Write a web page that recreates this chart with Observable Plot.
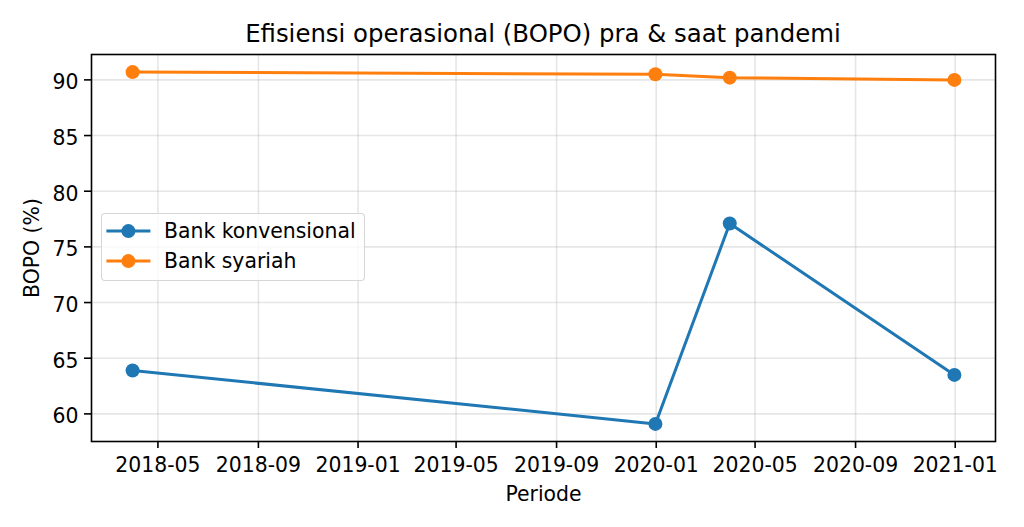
<!DOCTYPE html>
<html>
<head>
<meta charset="utf-8">
<script src="https://cdn.jsdelivr.net/npm/d3@7"></script>
<script src="https://cdn.jsdelivr.net/npm/@observablehq/plot@0.6"></script>
<style>
  html, body { margin: 0; padding: 0; background: white; }
  #wrap { position: relative; width: 1024px; height: 527px; overflow: hidden; font-family: "DejaVu Sans", sans-serif; }
  #title { height: 46px; box-sizing: border-box; padding-top: 22px; margin-left: 91px; width: 904px; text-align: center; font-size: 24.4px; line-height: 24px; color: black; white-space: nowrap; }
  #legend { position: absolute; left: 101px; top: 213px; width: 264px; height: 68px; box-sizing: border-box; border: 1.6px solid rgba(204,204,204,0.8); border-radius: 4px; background: rgba(255,255,255,0.8); }
  #legend svg { position: absolute; left: 0; top: 0; overflow: visible; }
</style>
</head>
<body>
<div id="wrap">
  <div id="title"></div>
  <div id="chart"></div>
  <div id="legend"></div>
</div>
<script>
const titleText = "Efisiensi operasional (BOPO) pra & saat pandemi";
const xLabel = "Periode";
const yLabel = "BOPO (%)";
const seriesNames = ["Bank konvensional", "Bank syariah"];
const seriesColors = ["#1f77b4", "#ff7f0e"];
const dates = ["2018-03-31", "2019-12-31", "2020-03-31", "2020-12-31"];
const konvensional = [63.9, 59.1, 77.1, 63.5];
const syariah = [90.7, 90.5, 90.2, 90.0];
const xTickLabels = ["2018-05", "2018-09", "2019-01", "2019-05", "2019-09", "2020-01", "2020-05", "2020-09", "2021-01"];
const yTicks = [60, 65, 70, 75, 80, 85, 90];

document.getElementById("title").textContent = titleText;

const parseDate = d3.utcParse("%Y-%m-%d");
const parseMonth = d3.utcParse("%Y-%m");
const xTicks = xTickLabels.map(parseMonth);

const data = [];
dates.forEach((d, i) => {
  data.push({date: parseDate(d), value: konvensional[i], series: seriesNames[0]});
  data.push({date: parseDate(d), value: syariah[i], series: seriesNames[1]});
});

// matplotlib-like 5% margins
const [x0, x1] = d3.extent(data, d => +d.date);
const xPad = (x1 - x0) * 0.05;
const [y0, y1] = d3.extent(data, d => d.value);
const yPad = (y1 - y0) * 0.05;

const gridStyle = {stroke: "#b0b0b0", strokeOpacity: 0.32, strokeWidth: 1.6};
const FS = 20.4;

const chart = Plot.plot({
  width: 1024,
  height: 481,
  marginTop: 8,
  marginBottom: 86,
  marginLeft: 91,
  marginRight: 29,
  style: {fontFamily: "DejaVu Sans, sans-serif", fontSize: FS + "px", background: "white", color: "black", overflow: "visible"},
  x: {type: "utc", domain: [new Date(x0 - xPad), new Date(x1 + xPad)]},
  y: {domain: [y0 - yPad, y1 + yPad]},
  color: {domain: seriesNames, range: seriesColors},
  marks: [
    Plot.gridX(xTicks, gridStyle),
    Plot.gridY(yTicks, gridStyle),
    Plot.line(data, {x: "date", y: "value", stroke: "series", z: "series", strokeWidth: 3}),
    Plot.dot(data, {x: "date", y: "value", fill: "series", r: 7}),
    Plot.frame({stroke: "black", strokeWidth: 1.6}),
    Plot.axisX(xTicks, {tickSize: 7, tickPadding: 9, tickFormat: d3.utcFormat("%Y-%m"), label: null, strokeWidth: 1.6, fontSize: FS}),
    Plot.axisY(yTicks, {tickSize: 7, fill: "none", label: null, strokeWidth: 1.6}),
    Plot.axisY(yTicks, {tickSize: 7, tickPadding: 6, stroke: "none", dy: 3, label: null, fontSize: FS}),
    Plot.text([yLabel], {frameAnchor: "left", textAnchor: "middle", lineAnchor: "middle", dx: -59.5, rotate: -90, text: d => d, fontSize: FS, fill: "black"}),
    Plot.text([xLabel], {frameAnchor: "bottom", textAnchor: "middle", lineAnchor: "middle", dy: 53, text: d => d, fontSize: FS, fill: "black"})
  ]
});
document.getElementById("chart").appendChild(chart);

// legend (matplotlib-style box inside the axes)
const leg = d3.select("#legend").append("svg").attr("width", 262).attr("height", 66);
const rowBase = [23.7, 54.2];
const rowMid = [17.1, 47.1];
seriesNames.forEach((name, i) => {
  const g = leg.append("g");
  g.append("line").attr("x1", 4.4).attr("x2", 48.4).attr("y1", rowMid[i]).attr("y2", rowMid[i])
    .attr("stroke", seriesColors[i]).attr("stroke-width", 3);
  g.append("circle").attr("cx", 26.4).attr("cy", rowMid[i]).attr("r", 7).attr("fill", seriesColors[i]);
  g.append("text").attr("x", 62).attr("y", rowBase[i]).attr("font-family", "DejaVu Sans, sans-serif")
    .attr("font-size", FS).attr("fill", "black").text(name);
});
</script>
</body>
</html>
